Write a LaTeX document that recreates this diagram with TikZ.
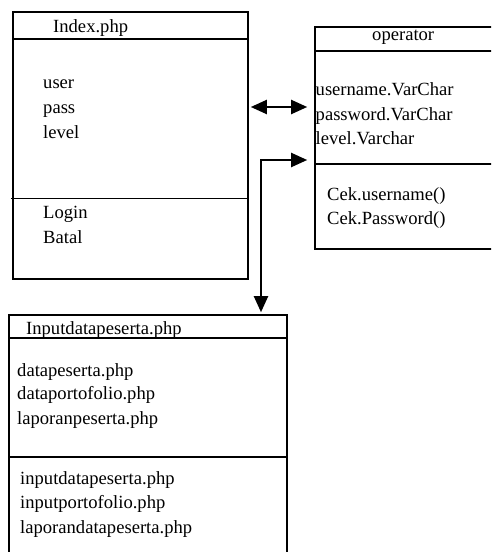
\documentclass[tikz,border=0pt]{standalone}
\usepackage{fontspec}
\setmainfont{Liberation Serif}
\usetikzlibrary{arrows.meta}
\begin{document}
\begin{tikzpicture}[x=1pt,y=-1pt,
  box/.style={draw,line width=1.6pt,inner sep=0pt,minimum width=#1},
  sep/.style={line width=1.6pt},
  txt/.style={anchor=base west,inner sep=0pt,font=\fontsize{18.6}{22}\selectfont},
  conn/.style={line width=2pt,{Triangle[length=16pt,width=14pt]}-{Triangle[length=16pt,width=14pt]}}]
\useasboundingbox (0,0) rectangle (491,552);
\clip (0,0) rectangle (491,552);
% Index.php
\node[box=235,minimum height=267] (index) at (130.5,145.5) {};
\draw[sep] (13,39) -- (248,39);
\draw[sep] (11,198.5) -- (248,198.5);
\node[txt] (t1) at (53,32) {Index.php};
\node[txt] (t2) at (43,88) {user};
\node[txt] (t3) at (43,113) {pass};
\node[txt] (t4) at (43,138) {level};
\node[txt] (t5) at (43,218) {Login};
\node[txt] (t6) at (43,243) {Batal};
% operator
\node[box=190,minimum height=222] (oper) at (410,138) {};
\draw[sep] (315,51) -- (505,51);
\draw[sep] (315,164) -- (505,164);
\node[txt] (o1) at (372,40) {operator};
\node[txt] (o2) at (315.5,95) {username.VarChar};
\node[txt] (o3) at (315.5,120) {password.VarChar};
\node[txt] (o4) at (315.5,144) {level.Varchar};
\node[txt] (o5) at (327,200) {Cek.username()};
\node[txt] (o6) at (327,224) {Cek.Password()};
% Inputdatapeserta.php
\node[box=278,minimum height=260] (input) at (148,445) {};
\draw[sep] (9,338) -- (287,338);
\draw[sep] (9,457) -- (287,457);
\node[txt] (i1) at (26,334) {Inputdatapeserta.php};
\node[txt] (i2) at (17,376) {datapeserta.php};
\node[txt] (i3) at (17,399) {dataportofolio.php};
\node[txt] (i4) at (17,424) {laporanpeserta.php};
\node[txt] (i5) at (20,484) {inputdatapeserta.php};
\node[txt] (i6) at (20,508) {inputportofolio.php};
\node[txt] (i7) at (20,533) {laporandatapeserta.php};
% connectors
\coordinate (a1) at (0,107);
\coordinate (a2) at (261,160);
\draw[conn,shorten <=2pt,shorten >=7pt] (index.east |- a1) -- (oper.west |- a1);
\draw[conn,shorten <=7pt,shorten >=2pt] (oper.west |- a2) -| (input.north -| a2);
\end{tikzpicture}
\end{document}
